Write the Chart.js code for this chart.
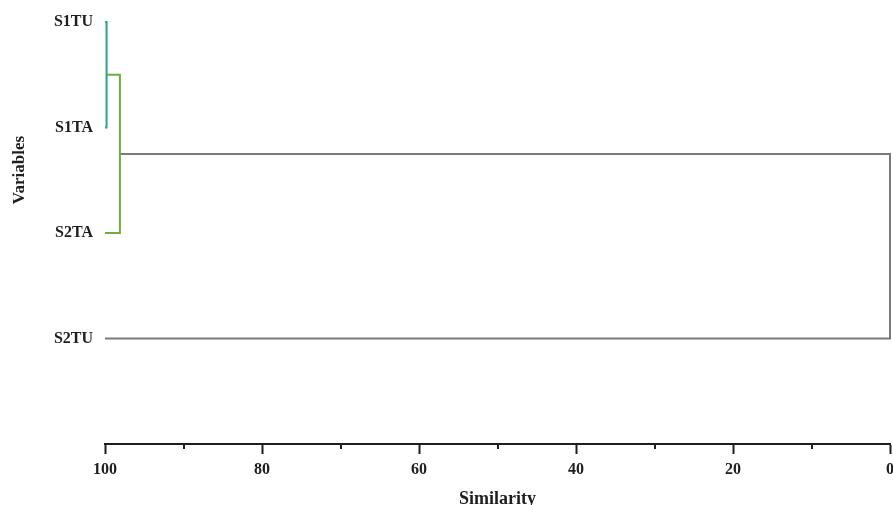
<!DOCTYPE html>
<html>
<head>
<meta charset="utf-8">
<script src="https://cdn.jsdelivr.net/npm/chart.js@4"></script>
<style>
  html, body { margin: 0; padding: 0; background: #fff; }
  #wrap { width: 893px; height: 505px; }
</style>
</head>
<body>
<div id="wrap"><canvas id="dendro"></canvas></div>
<script>
const INK   = '#1e1e1e';
const TEAL  = '#2aa48c';
const GREEN = '#6cad3c';
const GRAY  = '#7a7a7a';
const SERIF = "'Liberation Serif', 'Times New Roman', serif";

// leaves, top to bottom
const leaves = ['S1TU', 'S1TA', 'S2TA', 'S2TU'];
// merges: indices >= leaves.length refer to earlier clusters
const mergePairs = [[0, 1], [4, 2], [5, 3]];
const mergeSim   = [99.8, 98.1, 0];
const mergeColor = [TEAL, GREEN, GRAY];
const minorTicks = [90, 70, 50, 30, 10];

// position (x = similarity, y = row) of every node
const nodes = leaves.map((_, i) => ({ x: 100, y: i }));
const links = mergePairs.map(([a, b], i) => {
  const A = nodes[a], B = nodes[b], h = mergeSim[i];
  nodes.push({ x: h, y: (A.y + B.y) / 2 });
  return {
    label: 'link' + i,
    data: [{ x: A.x, y: A.y }, { x: h, y: A.y }, { x: h, y: B.y }, { x: B.x, y: B.y }],
    borderColor: mergeColor[i],
    borderWidth: 2,
    showLine: true,
    pointRadius: 0,
    tension: 0,
    clip: false
  };
});

// minor tick marks + left title
const extras = {
  id: 'extras',
  afterDraw(chart) {
    const { ctx, chartArea } = chart;
    const xs = chart.scales.x;
    ctx.save();
    ctx.strokeStyle = INK;
    ctx.lineWidth = 2;
    minorTicks.forEach(v => {
      const px = Math.round(xs.getPixelForValue(v));
      ctx.beginPath();
      ctx.moveTo(px, chartArea.bottom);
      ctx.lineTo(px, chartArea.bottom + 5);
      ctx.stroke();
    });
    ctx.translate(20, 170);
    ctx.rotate(-Math.PI / 2);
    ctx.fillStyle = INK;
    ctx.font = 'bold 17px ' + SERIF;
    ctx.textAlign = 'center';
    ctx.textBaseline = 'middle';
    ctx.fillText('Variables', 0, 0);
    ctx.restore();
  }
};

new Chart('dendro', {
  type: 'scatter',
  data: { datasets: links },
  plugins: [extras],
  options: {
    responsive: true,
    maintainAspectRatio: false,
    animation: false,
    layout: { padding: { top: 22, right: 3, left: 0, bottom: 0 } },
    plugins: { legend: { display: false }, tooltip: { enabled: false } },
    scales: {
      x: {
        type: 'linear',
        min: 0, max: 100,
        reverse: true,
        afterFit: s => { s.height = 61; s.paddingRight = 0; s.paddingLeft = 0; },
        grid: { drawOnChartArea: false, tickLength: 10, tickColor: INK, tickWidth: 2 },
        border: { color: INK, width: 2 },
        ticks: { stepSize: 20, padding: 6, color: INK, font: { family: SERIF, size: 16, weight: 'bold' } },
        title: { display: true, text: 'Similarity', color: INK, padding: { top: 0, bottom: -5 },
                 font: { family: SERIF, size: 18, weight: 'bold' } }
      },
      y: {
        type: 'linear',
        min: 0, max: 4,
        reverse: true,
        afterFit: s => { s.width = 105; },
        afterBuildTicks: s => { s.ticks = leaves.map((_, i) => ({ value: i })); },
        grid: { display: false, drawTicks: false },
        border: { display: false },
        ticks: { padding: 12, color: INK, callback: v => leaves[v],
                 font: { family: SERIF, size: 16, weight: 'bold' } }
      }
    }
  }
});
</script>
</body>
</html>
